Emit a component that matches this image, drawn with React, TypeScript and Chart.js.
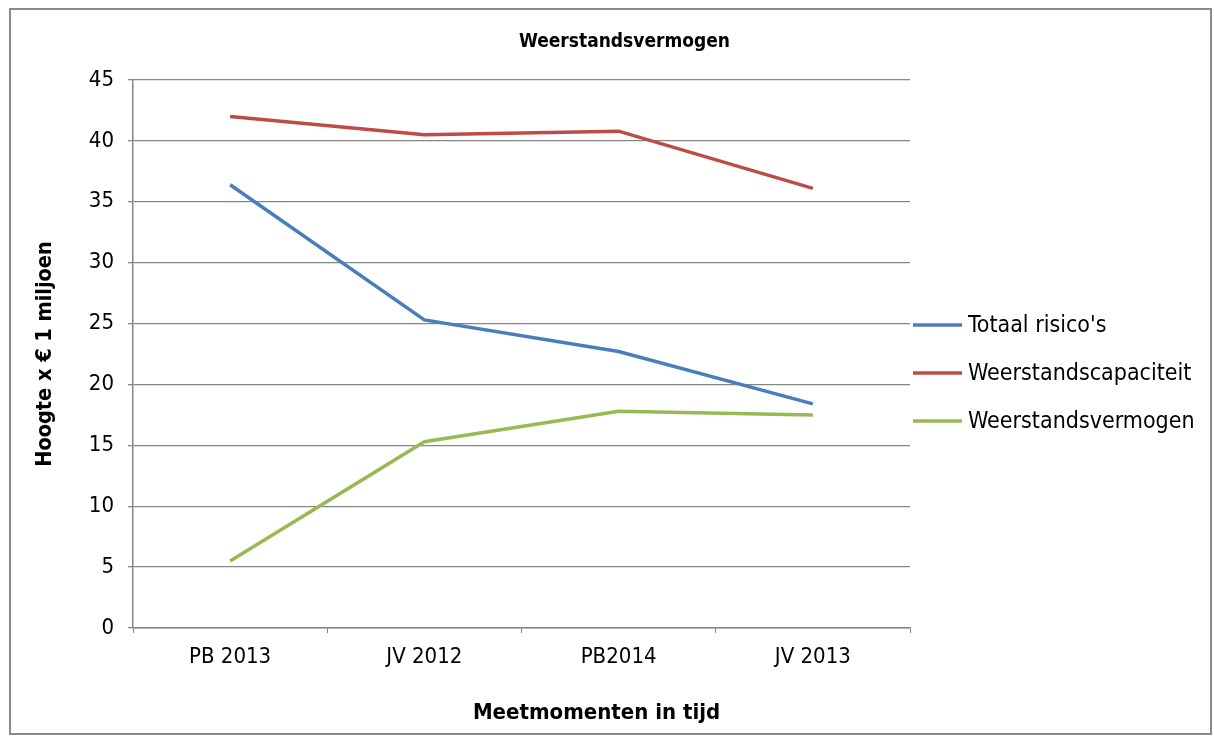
import React, { useEffect, useRef } from "react";
import { Chart, registerables } from "chart.js";

Chart.register(...registerables);

const categories = ["PB 2013", "JV 2012", "PB2014", "JV 2013"];
const seriesNames = ["Totaal risico's", "Weerstandscapaciteit", "Weerstandsvermogen"];
const totaalRisicos = [36.4, 25.3, 22.7, 18.4];
const weerstandscapaciteit = [42.0, 40.5, 40.8, 36.1];
const weerstandsvermogen = [5.5, 15.3, 17.8, 17.5];
const seriesColors = ["#4A7EBB", "#BE4B48", "#98B954"];
const chartTitle = "Weerstandsvermogen";
const xTitle = "Meetmomenten in tijd";
const yTitle = "Hoogte x € 1 miljoen";

const FONT = "'DejaVu Sans Condensed', 'DejaVu Sans', sans-serif";

const decorPlugin = {
  id: "decor",
  afterDraw(chart: any) {
    const { ctx, chartArea } = chart;
    const n = chart.data.datasets.length;
    const cx = chart.width / 2;
    const cy = chart.height / 2;
    const gap = 48;
    ctx.save();
    // chart title
    ctx.fillStyle = "#000";
    ctx.textAlign = "center";
    ctx.textBaseline = "middle";
    ctx.font = `bold 19px ${FONT}`;
    ctx.fillText(chartTitle, cx + 14, 32);
    // x axis title
    ctx.font = `bold 22px ${FONT}`;
    ctx.fillText(xTitle, cx - 14, 703);
    // legend
    ctx.font = `23px ${FONT}`;
    ctx.textAlign = "left";
    chart.data.datasets.forEach((ds: any, i: number) => {
      const y = cy + 1.5 + (i - (n - 1) / 2) * gap;
      const x0 = chartArea.right + 3;
      ctx.strokeStyle = ds.borderColor;
      ctx.lineWidth = 3.5;
      ctx.beginPath();
      ctx.moveTo(x0, y);
      ctx.lineTo(x0 + 49, y);
      ctx.stroke();
      ctx.fillStyle = "#000";
      ctx.fillText(ds.label, x0 + 55, y + 1);
    });
    ctx.restore();
  },
};

export default function App() {
  const ref = useRef<HTMLCanvasElement | null>(null);
  useEffect(() => {
    if (!ref.current) return;
    const data = [totaalRisicos, weerstandscapaciteit, weerstandsvermogen];
    const chart = new Chart(ref.current, {
      type: "line",
      data: {
        labels: categories,
        datasets: data.map((d, i) => ({
          label: seriesNames[i],
          data: d,
          borderColor: seriesColors[i],
          backgroundColor: seriesColors[i],
          borderWidth: 3.5,
          pointRadius: 0,
          tension: 0,
        })),
      },
      options: {
        responsive: false,
        animation: false,
        layout: { padding: { left: 0, right: 300, top: 70, bottom: 0 } },
        plugins: {
          legend: { display: false },
          tooltip: { enabled: false },
          title: { display: false },
        },
        scales: {
          x: {
            offset: true,
            grid: {
              offset: true,
              drawOnChartArea: false,
              drawTicks: true,
              tickLength: 5,
              color: "#868686",
            },
            border: { color: "#868686", width: 1.5 },
            ticks: {
              color: "#000",
              font: { family: FONT, size: 22 },
              padding: 11,
              maxRotation: 0,
            },
            title: { display: false },
            afterFit: (scale: any) => {
              scale.height = 105;
            },
          },
          y: {
            min: 0,
            max: 45,
            ticks: {
              stepSize: 5,
              color: "#000",
              font: { family: FONT, size: 22 },
              padding: 14,
            },
            grid: {
              color: "#868686",
              lineWidth: 1.3,
              tickLength: 5,
            },
            border: { color: "#868686", width: 1.5 },
            title: {
              display: true,
              text: yTitle,
              color: "#000",
              font: { family: FONT, size: 21.5, weight: "bold" },
              padding: { top: 22, bottom: 0 },
            },
            afterFit: (scale: any) => {
              scale.width = 122;
            },
          },
        },
      },
      plugins: [decorPlugin],
    });
    return () => chart.destroy();
  }, []);

  return (
    <div
      style={{
        position: "absolute",
        left: 9,
        top: 8,
        width: 1199,
        height: 723,
        border: "2px solid #8a8a8a",
        background: "#fff",
      }}
    >
      <canvas ref={ref} width={1199} height={723} style={{ display: "block" }} />
    </div>
  );
}
